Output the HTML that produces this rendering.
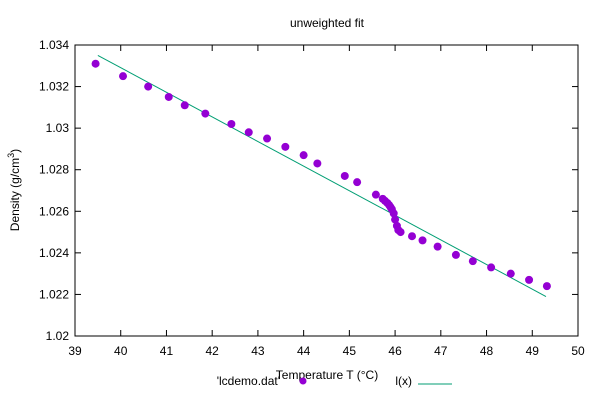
<!DOCTYPE html>
<html><head><meta charset="utf-8"><style>
body{margin:0;background:#fff;}
svg text{font-family:"Liberation Sans",sans-serif;font-size:12px;fill:#000;}
</style></head><body>
<svg id="chart" width="600" height="400" xmlns="http://www.w3.org/2000/svg">
<rect width="600" height="400" fill="#fff"/>
<text x="327" y="27" text-anchor="middle">unweighted fit</text>
<g id="axes"></g>
<g id="marks"></g>
<text x="327" y="379" text-anchor="middle">Temperature T (°C)</text>
<text transform="translate(19,190) rotate(-90)" text-anchor="middle">Density (g/cm<tspan dy="-5" font-size="9">3</tspan><tspan dy="5">)</tspan></text>
<g>
<text x="280" y="385" text-anchor="end">'lcdemo.dat'</text>
<circle cx="303" cy="381" r="3.5" fill="#9400d3"/>
</g>
<g>
<text x="412" y="385" text-anchor="end">l(x)</text>
<line x1="418" y1="384" x2="452" y2="384" stroke="#009e73" stroke-width="1"/>
</g>
</svg>
<script>
const xTicks=[39,40,41,42,43,44,45,46,47,48,49,50];
const yTicks=[1.02,1.022,1.024,1.026,1.028,1.03,1.032,1.034];
const yTickLabels=["1.02","1.022","1.024","1.026","1.028","1.03","1.032","1.034"];
const temps=[39.45,40.05,40.6,41.05,41.4,41.85,42.42,42.8,43.2,43.6,44.0,44.3,44.9,45.17,45.58,45.73,45.78,45.83,45.87,45.9,45.93,45.97,46.0,46.04,46.07,46.12,46.37,46.6,46.93,47.33,47.7,48.1,48.53,48.93,49.32];
const densities=[1.0331,1.0325,1.0320,1.0315,1.0311,1.0307,1.0302,1.0298,1.0295,1.0291,1.0287,1.0283,1.0277,1.0274,1.0268,1.0266,1.0265,1.0264,1.0263,1.0262,1.0261,1.0259,1.0256,1.0253,1.0251,1.0250,1.0248,1.0246,1.0243,1.0239,1.0236,1.0233,1.0230,1.0227,1.0224];
const fitX=[39.5,49.3];
const fitY=[1.0335,1.0219];
const L=75,R=578,T=45,B=336;
const sx=v=>L+(v-39)/(50-39)*(R-L);
const sy=v=>B-(v-1.02)/(1.034-1.02)*(B-T);
const NS="http://www.w3.org/2000/svg";
const axes=document.getElementById('axes'),marks=document.getElementById('marks');
function mk(tag,attrs,parent){const e=document.createElementNS(NS,tag);for(const k in attrs)e.setAttribute(k,attrs[k]);parent.appendChild(e);return e;}
const frame=mk('rect',{x:L,y:T,width:R-L,height:B-T,fill:'none',stroke:'#000','stroke-width':1},axes);


xTicks.forEach(t=>{const x=sx(t);
mk('line',{x1:x,y1:B,x2:x,y2:B-6,stroke:'#000'},axes);
mk('line',{x1:x,y1:T,x2:x,y2:T+6,stroke:'#000'},axes);
const tx=mk('text',{x:x,y:B+19,'text-anchor':'middle'},axes);tx.textContent=t;

});
yTicks.forEach((t,i)=>{const y=sy(t);
mk('line',{x1:L,y1:y,x2:L+6,y2:y,stroke:'#000'},axes);
mk('line',{x1:R,y1:y,x2:R-6,y2:y,stroke:'#000'},axes);
const tx=mk('text',{x:L-6,y:y+4,'text-anchor':'end'},axes);tx.textContent=yTickLabels[i];

});
const fl=mk('line',{x1:sx(fitX[0]),y1:sy(fitY[0]),x2:sx(fitX[1]),y2:sy(fitY[1]),stroke:'#009e73','stroke-width':1},marks);


temps.forEach((t,i)=>{const c=mk('circle',{cx:sx(t),cy:sy(densities[i]),r:4,fill:'#9400d3'},marks);

});
</script>
</body></html>
